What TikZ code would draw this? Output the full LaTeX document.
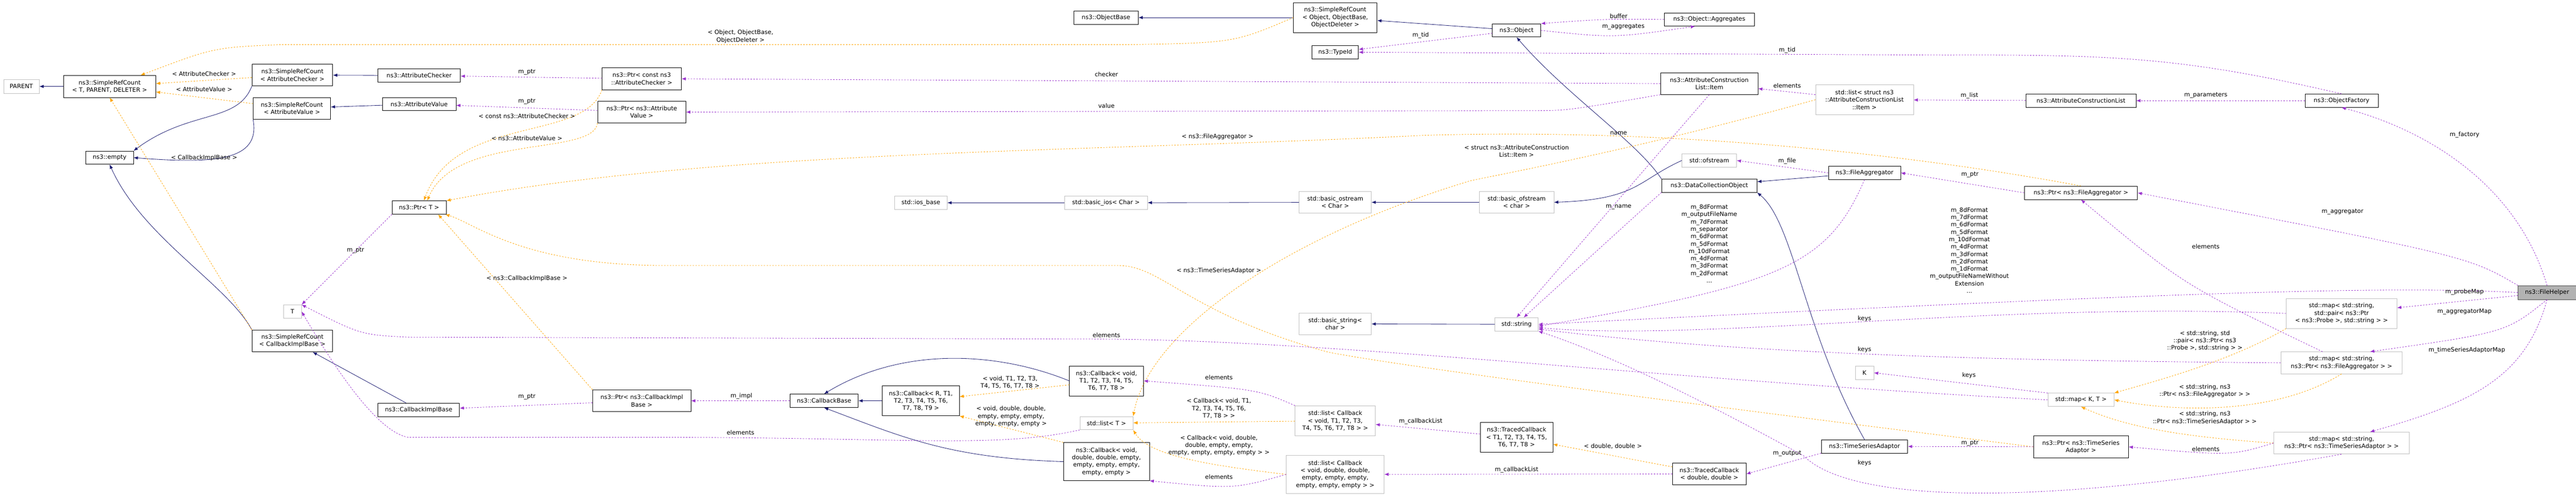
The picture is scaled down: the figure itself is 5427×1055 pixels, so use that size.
\documentclass[tikz,border=0pt]{standalone}
\usepackage{fontspec}
\setmainfont{DejaVu Sans}
\usetikzlibrary{arrows.meta}
\definecolor{inhcol}{HTML}{191970}
\definecolor{usecol}{HTML}{9A32CD}
\definecolor{tplcol}{HTML}{FFA500}

\begin{document}
\begin{tikzpicture}[x=1pt, y=-1pt,
    every node/.style={font=\fontsize{12.5}{15.5}\selectfont},
    cls/.style={draw=black, thick, fill=white, rectangle, align=center, inner sep=2pt},
    ext/.style={draw=black!25, thick, fill=white, rectangle, align=center, inner sep=2pt},
    cur/.style={draw=black!70, thick, fill=black!30, rectangle, align=center, inner sep=2pt},
    lbl/.style={align=center, inner sep=1pt},
    inh/.style={-{Latex[length=9pt,width=7pt]}, inhcol, line width=0.9pt},
    use/.style={-{Latex[length=9pt,width=7pt]}, usecol, dashed, line width=0.9pt},
    tpl/.style={-{Latex[length=9pt,width=7pt]}, tplcol, dashed, line width=0.9pt}
]
\useasboundingbox (0,0) rectangle (5427,1055);

% left part
\node[ext, minimum width=75pt, minimum height=29pt] (parent) at (45,182) {PARENT};
\node[cls, minimum width=194pt, minimum height=46pt] (srctpd) at (231,182) {ns3::SimpleRefCount\\< T, PARENT, DELETER >};
\node[cls, minimum width=170pt, minimum height=46pt] (srcac) at (616,158) {ns3::SimpleRefCount\\< AttributeChecker >};
\node[cls, minimum width=163pt, minimum height=46pt] (srcav) at (615,228) {ns3::SimpleRefCount\\< AttributeValue >};
\node[cls, minimum width=174pt, minimum height=28pt] (achk) at (883,159) {ns3::AttributeChecker};
\node[cls, minimum width=155pt, minimum height=28pt] (aval) at (883,219) {ns3::AttributeValue};
\node[cls, minimum width=100pt, minimum height=28pt] (empty) at (231,332) {ns3::empty};
\node[cls, minimum width=114pt, minimum height=28pt] (ptrt) at (883,437) {ns3::Ptr< T >};
\node[cls, minimum width=167pt, minimum height=46pt] (ptrcac) at (1352,166) {ns3::Ptr< const ns3\\::AttributeChecker >};
\node[cls, minimum width=186pt, minimum height=46pt] (ptrav) at (1352,236) {ns3::Ptr< ns3::Attribute\\Value >};
\node[ext, minimum width=38pt, minimum height=28pt] (tpar) at (616,656) {T};
\node[cls, minimum width=170pt, minimum height=46pt] (srccib) at (616,718) {ns3::SimpleRefCount\\< CallbackImplBase >};
\node[cls, minimum width=172pt, minimum height=28pt] (cib) at (882,863) {ns3::CallbackImplBase};
\node[cls, minimum width=207pt, minimum height=46pt] (ptrcib) at (1352,844) {ns3::Ptr< ns3::CallbackImpl\\Base >};

% middle part
\node[cls, minimum width=136pt, minimum height=28pt] (objbase) at (2330,37) {ns3::ObjectBase};
\node[cls, minimum width=176pt, minimum height=63pt] (srcobj) at (2813,37) {ns3::SimpleRefCount\\< Object, ObjectBase,\\ ObjectDeleter >};
\node[cls, minimum width=98pt, minimum height=28pt] (typeid) at (2813,110) {ns3::TypeId};
\node[ext, minimum width=111pt, minimum height=28pt] (iosbase) at (1940,427) {std::ios\_base};
\node[ext, minimum width=175pt, minimum height=28pt] (basicios) at (2330,427) {std::basic\_ios< Char >};
\node[ext, minimum width=152pt, minimum height=46pt] (bostream) at (2813,426) {std::basic\_ostream\\< Char >};
\node[cls, minimum width=144pt, minimum height=28pt] (cbbase) at (1736,844) {ns3::CallbackBase};
\node[cls, minimum width=162pt, minimum height=63pt] (cbr) at (1940,844) {ns3::Callback< R, T1,\\T2, T3, T4, T5, T6,\\T7, T8, T9 >};
\node[cls, minimum width=156pt, minimum height=63pt] (cbvt) at (2331,802) {ns3::Callback< void,\\T1, T2, T3, T4, T5,\\T6, T7, T8 >};
\node[cls, minimum width=181pt, minimum height=80pt] (cbvd) at (2331,972) {ns3::Callback< void,\\double, double, empty,\\empty, empty, empty,\\empty, empty >};
\node[ext, minimum width=112pt, minimum height=28pt] (listt) at (2331,891) {std::list< T >};
\node[ext, minimum width=169pt, minimum height=63pt] (listcbt) at (2813,886) {std::list< Callback\\< void, T1, T2, T3,\\T4, T5, T6, T7, T8 > >};
\node[ext, minimum width=206pt, minimum height=80pt] (listcbd) at (2813,999) {std::list< Callback\\< void, double, double,\\empty, empty, empty,\\empty, empty, empty > >};
\node[ext, minimum width=152pt, minimum height=46pt] (bstring) at (2813,682) {std::basic\_string<\\char >};

% right part
\node[cls, minimum width=102pt, minimum height=28pt] (object) at (3195,64) {ns3::Object};
\node[cls, minimum width=190pt, minimum height=28pt] (aggr) at (3601,41) {ns3::Object::Aggregates};
\node[cls, minimum width=205pt, minimum height=46pt] (item) at (3601,176) {ns3::AttributeConstruction\\List::Item};
\node[ext, minimum width=206pt, minimum height=63pt] (listitem) at (3928,210) {std::list< struct ns3\\::AttributeConstructionList\\::Item >};
\node[ext, minimum width=115pt, minimum height=28pt] (ofstream) at (3601,338) {std::ofstream};
\node[cls, minimum width=152pt, minimum height=28pt] (fileagg) at (3928,364) {ns3::FileAggregator};
\node[cls, minimum width=201pt, minimum height=28pt] (dco) at (3601,391) {ns3::DataCollectionObject};
\node[ext, minimum width=157pt, minimum height=46pt] (bofstream) at (3195,426) {std::basic\_ofstream\\< char >};
\node[ext, minimum width=91pt, minimum height=28pt] (string) at (3195,683) {std::string};
\node[ext, minimum width=39pt, minimum height=28pt] (kpar) at (3928,785) {K};
\node[cls, minimum width=153pt, minimum height=63pt] (tct) at (3195,921) {ns3::TracedCallback\\< T1, T2, T3, T4, T5,\\T6, T7, T8 >};
\node[cls, minimum width=155pt, minimum height=46pt] (tcd) at (3601,998) {ns3::TracedCallback\\< double, double >};
\node[cls, minimum width=182pt, minimum height=28pt] (tsa) at (3928,940) {ns3::TimeSeriesAdaptor};
\node[cls, minimum width=232pt, minimum height=28pt] (acl) at (4384,212) {ns3::AttributeConstructionList};
\node[cls, minimum width=154pt, minimum height=28pt] (factory) at (4933,212) {ns3::ObjectFactory};
\node[cls, minimum width=238pt, minimum height=28pt] (ptrfa) at (4384,406) {ns3::Ptr< ns3::FileAggregator >};
\node[cur, minimum width=122pt, minimum height=29pt] (helper) at (5366,616) {ns3::FileHelper};
\node[ext, minimum width=233pt, minimum height=63pt] (mapprobe) at (4933,660) {std::map< std::string,\\ std::pair< ns3::Ptr\\< ns3::Probe >, std::string > >};
\node[ext, minimum width=256pt, minimum height=46pt] (mapfa) at (4933,764) {std::map< std::string,\\ ns3::Ptr< ns3::FileAggregator > >};
\node[ext, minimum width=139pt, minimum height=28pt] (mapkt) at (4384,842) {std::map< K, T >};
\node[cls, minimum width=200pt, minimum height=46pt] (ptrtsa) at (4384,941) {ns3::Ptr< ns3::TimeSeries\\Adaptor >};
\node[ext, minimum width=286pt, minimum height=46pt] (maptsa) at (4933,933) {std::map< std::string,\\ ns3::Ptr< ns3::TimeSeriesAdaptor > >};

% inheritance
\draw[inh] (srctpd) -- (parent);
\draw[inh] (srcac.south west) .. controls (500,260) and (400,230) .. (empty.north east);
\draw[inh] (srcav.south west) .. controls (550,340) and (450,345) .. (empty.east);
\draw[inh] (srccib.north west) .. controls (480,600) and (300,500) .. (empty.south);
\draw[inh] (achk) -- (srcac);
\draw[inh] (aval) -- (srcav);
\draw[inh] (cib) -- (srccib);
\draw[inh] (cbr) -- (cbbase);
\draw[inh] (cbvt.west) .. controls (2100,740) and (1900,730) .. (cbbase.north);
\draw[inh] (cbvd.west) .. controls (2000,965) and (1900,920) .. (cbbase.south);
\draw[inh] (basicios) -- (iosbase);
\draw[inh] (bostream) -- (basicios);
\draw[inh] (bofstream) -- (bostream);
\draw[inh] (ofstream.west) .. controls (3450,380) and (3450,420) .. (bofstream.east);
\draw[inh] (srcobj) -- (objbase);
\draw[inh] (object) -- (srcobj);
\draw[inh] (dco.north west) .. controls (3450,300) and (3300,200) .. (object.south);
\draw[inh] (fileagg) -- (dco);
\draw[inh] (tsa.north) .. controls (3800,700) and (3780,470) .. (dco.south east);
\draw[inh] (string) -- (bstring);

% template instances
\draw[tpl] (srcac) -- (srctpd);
\draw[tpl] (srcav) -- (srctpd);
\draw[tpl] (srccib.north west) -- (srctpd.south);
\draw[tpl] (srcobj.west) .. controls (2600,90) .. (2380,94) -- (590,94) .. controls (450,100) .. ([xshift=65pt]srctpd.north);
\draw[tpl] (ptrcac.south west) .. controls (1230,300) and (960,240) .. ([xshift=10pt]ptrt.north);
\draw[tpl] (ptrav.south west) .. controls (1250,330) and (960,280) .. ([xshift=17pt]ptrt.north);
\draw[tpl] (ptrfa.north) .. controls (4000,320) and (3500,270) .. (3000,285) .. controls (2300,320) and (1500,315) .. (ptrt.north east);
\draw[tpl] (ptrcib.north west) -- ([xshift=40pt]ptrt.south);
\draw[tpl] (ptrtsa.west) .. controls (3800,880) and (3000,780) .. (2800,742) .. controls (2500,660) and (2450,559) .. (2355,559) -- (1400,559) .. controls (1100,559) and (1000,470) .. ([xshift=55pt]ptrt.south);
\draw[tpl] (cbvt) -- (cbr);
\draw[tpl] (cbvd.north west) -- (cbr.south east);
\draw[tpl] (listcbt) -- (listt);
\draw[tpl] (listcbd.west) .. controls (2550,980) and (2420,960) .. (listt.south east);
\draw[tpl] (listitem.west) .. controls (3500,300) and (3250,350) .. (3100,380) .. controls (2700,500) and (2420,700) .. (listt.north east);
\draw[tpl] (tcd) -- (tct);
\draw[tpl] (mapprobe.south west) .. controls (4700,760) and (4550,800) .. (mapkt.north east);
\draw[tpl] (mapfa.south) .. controls (4800,870) and (4600,870) .. (mapkt.east);
\draw[tpl] (maptsa.west) .. controls (4600,920) and (4480,900) .. (mapkt.south);

% members
\draw[use] (ptrcac) -- (achk);
\draw[use] (ptrav) -- (aval);
\draw[use] (ptrt.south west) -- (tpar.north east);
\draw[use] (ptrcib) -- (cib);
\draw[use] (cbbase) -- (ptrcib);
\draw[use] (object.east) .. controls (3400,80) .. ([xshift=-30pt]aggr.south);
\draw[use] (aggr.west) .. controls (3380,40) .. (object.north east);
\draw[use] (object) -- (typeid);
\draw[use] (factory.north) .. controls (4600,120) and (4450,115) .. (4100,116) -- (typeid.east);
\draw[use] (item.west) -- (ptrcac.east);
\draw[use] (item.south west) .. controls (3300,233) .. (3230,233) -- (ptrav.east);
\draw[use] (item.south) -- (string.north);
\draw[use] (listitem) -- (item);
\draw[use] (acl) -- (listitem);
\draw[use] (factory) -- (acl);
\draw[use] (helper.north) .. controls (5300,380) and (5100,270) .. (factory.south);
\draw[use] (helper.north west) .. controls (5200,540) .. (ptrfa.east);
\draw[use] (ptrfa.west) -- (fileagg.east);
\draw[use] (fileagg.west) -- (ofstream.east);
\draw[use] (dco.south west) .. controls (3450,450) .. ([xshift=15pt]string.north);
\draw[use] (fileagg.south) .. controls (3850,560) and (3750,600) .. ([yshift=-4pt]string.east);
\draw[use] (helper.west) .. controls (5000,600) and (4500,620) .. (string.east);
\draw[use] (helper) -- (mapprobe);
\draw[use] (helper.south) .. controls (5280,700) .. ([xshift=60pt]mapfa.north);
\draw[use] (helper.south) .. controls (5320,800) and (5200,850) .. ([xshift=60pt]maptsa.north);
\draw[use] ([xshift=-40pt]mapfa.north) .. controls (4600,600) .. (ptrfa.south);
\draw[use] (maptsa.west) .. controls (4700,960) .. (ptrtsa.east);
\draw[use] (ptrtsa) -- (tsa);
\draw[use] (tsa.south west) -- (tcd.east);
\draw[use] (tcd) -- (listcbd);
\draw[use] (tct) -- (listcbt);
\draw[use] (listcbt.north west) .. controls (2650,820) .. (cbvt.east);
\draw[use] (listcbd.west) .. controls (2600,1030) .. (cbvd.south east);
\draw[use] (listt.south west) .. controls (2100,945) and (1900,921) .. (1400,921) -- (860,921) .. controls (800,910) and (720,800) .. (tpar.east);
\draw[use] (mapkt.west) .. controls (3500,800) and (2800,714) .. (2300,714) -- (860,710) .. controls (760,705) .. (tpar.north east);
\draw[use] (mapkt.north west) -- (kpar.east);
\draw[use] (mapprobe.west) .. controls (4200,635) and (3600,720) .. ([yshift=-7pt]string.east);
\draw[use] (mapfa.west) .. controls (4300,760) and (3700,750) .. ([yshift=-10pt]string.east);
\draw[use] (maptsa.south) .. controls (4300,1070) and (3900,1060) .. (3800,960) .. controls (3600,850) and (3400,750) .. (string.south east);

% labels
\node[lbl] (l1) at (430,155) {< AttributeChecker >};
\node[lbl] (l2) at (430,188) {< AttributeValue >};
\node[lbl] (l3) at (430,332) {< CallbackImplBase >};
\node[lbl] (l4) at (1560,77) {< Object, ObjectBase,\\ObjectDeleter >};
\node[lbl] (l5) at (1110,244) {< const ns3::AttributeChecker >};
\node[lbl] (l6) at (1110,291) {< ns3::AttributeValue >};
\node[lbl] (l7) at (2565,288) {< ns3::FileAggregator >};
\node[lbl] (l8) at (1110,586) {< ns3::CallbackImplBase >};
\node[lbl] (l9) at (2568,570) {< ns3::TimeSeriesAdaptor >};
\node[lbl] (l10) at (2128,805) {< void, T1, T2, T3,\\T4, T5, T6, T7, T8 >};
\node[lbl] (l11) at (2130,877) {< void, double, double,\\empty, empty, empty,\\empty, empty, empty >};
\node[lbl] (l12) at (2568,860) {< Callback< void, T1,\\T2, T3, T4, T5, T6,\\T7, T8 > >};
\node[lbl] (l13) at (2568,938) {< Callback< void, double,\\double, empty, empty,\\empty, empty, empty, empty > >};
\node[lbl] (l14) at (3195,318) {< struct ns3::AttributeConstruction\\List::Item >};
\node[lbl] (l15) at (3398,940) {< double, double >};
\node[lbl] (l16) at (4645,718) {< std::string, std\\::pair< ns3::Ptr< ns3\\::Probe >, std::string > >};
\node[lbl] (l17) at (4645,823) {< std::string, ns3\\::Ptr< ns3::FileAggregator > >};
\node[lbl] (l18) at (4645,880) {< std::string, ns3\\::Ptr< ns3::TimeSeriesAdaptor > >};
\node[lbl] (l19) at (1110,152) {m\_ptr};
\node[lbl] (l20) at (1110,214) {m\_ptr};
\node[lbl] (l21) at (749,527) {m\_ptr};
\node[lbl] (l22) at (1110,836) {m\_ptr};
\node[lbl] (l23) at (1562,834) {m\_impl};
\node[lbl] (l24) at (3420,56) {m\_aggregates};
\node[lbl] (l25) at (3410,34) {buffer};
\node[lbl] (l26) at (2993,74) {m\_tid};
\node[lbl] (l27) at (3765,106) {m\_tid};
\node[lbl] (l28) at (2331,156) {checker};
\node[lbl] (l29) at (2331,223) {value};
\node[lbl] (l30) at (3410,280) {name};
\node[lbl] (l31) at (3765,180) {elements};
\node[lbl] (l32) at (4149,201) {m\_list};
\node[lbl] (l33) at (4647,201) {m\_parameters};
\node[lbl] (l34) at (5192,284) {m\_factory};
\node[lbl] (l35) at (4935,446) {m\_aggregator};
\node[lbl] (l36) at (4150,368) {m\_ptr};
\node[lbl] (l37) at (3765,339) {m\_file};
\node[lbl] (l38) at (3410,436) {m\_name};
\node[lbl] (l39) at (3601,513) {m\_8dFormat\\m\_outputFileName\\m\_7dFormat\\m\_separator\\m\_6dFormat\\m\_5dFormat\\m\_10dFormat\\m\_4dFormat\\m\_3dFormat\\m\_2dFormat\\...};
\node[lbl] (l40) at (4149,527) {m\_8dFormat\\m\_7dFormat\\m\_6dFormat\\m\_5dFormat\\m\_10dFormat\\m\_4dFormat\\m\_3dFormat\\m\_2dFormat\\m\_1dFormat\\m\_outputFileNameWithout\\Extension\\...};
\node[lbl] (l41) at (5192,615) {m\_probeMap};
\node[lbl] (l42) at (5192,656) {m\_aggregatorMap};
\node[lbl] (l43) at (5197,738) {m\_timeSeriesAdaptorMap};
\node[lbl] (l44) at (4647,519) {elements};
\node[lbl] (l45) at (4647,946) {elements};
\node[lbl] (l46) at (4150,933) {m\_ptr};
\node[lbl] (l47) at (3765,955) {m\_output};
\node[lbl] (l48) at (3195,989) {m\_callbackList};
\node[lbl] (l49) at (2993,887) {m\_callbackList};
\node[lbl] (l50) at (2568,795) {elements};
\node[lbl] (l51) at (2568,1004) {elements};
\node[lbl] (l52) at (1560,911) {elements};
\node[lbl] (l53) at (2331,706) {elements};
\node[lbl] (l54) at (4148,790) {keys};
\node[lbl] (l55) at (3928,671) {keys};
\node[lbl] (l56) at (3928,736) {keys};
\node[lbl] (l57) at (3928,975) {keys};
\end{tikzpicture}
\end{document}
